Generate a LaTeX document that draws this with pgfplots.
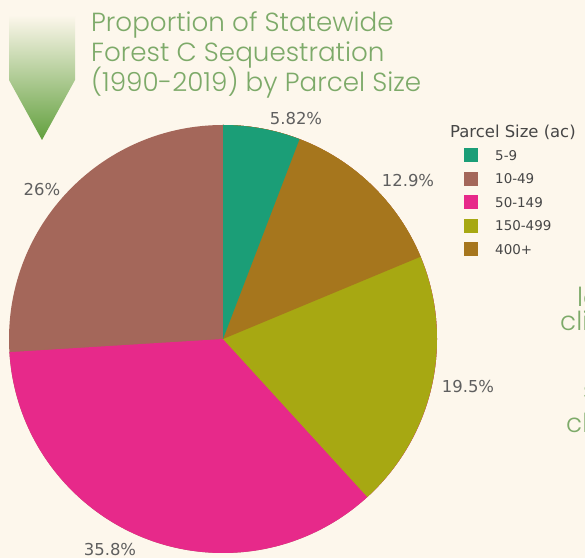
\documentclass[border=0pt]{standalone}
\usepackage{pgfplots}
\pgfplotsset{compat=1.18}
\usepackage{pgfplotstable}
\usepackage{fontspec}
\setmainfont{DejaVu Sans}
\newfontfamily\titlefont{Poppins Light}
\definecolor{bg}{RGB}{253,247,236}
\definecolor{ttl}{RGB}{125,170,105}
\definecolor{arrowg}{RGB}{98,160,62}
\definecolor{cA}{RGB}{27,158,119}
\definecolor{cE}{RGB}{164,103,90}
\definecolor{cD}{RGB}{231,41,138}
\definecolor{cC}{RGB}{167,168,18}
\definecolor{cB}{RGB}{166,118,29}
\definecolor{lbl}{RGB}{95,95,95}
\definecolor{leg}{RGB}{70,70,70}

% slices in clockwise order from 12 o'clock
\pgfplotstableread{
size share
5-9 5.82
400+ 12.9
150-499 19.5
50-149 35.8
10-49 26
}\piedata
\pgfplotstablegetelem{0}{share}\of\piedata \let\vA\pgfplotsretval
\pgfplotstablegetelem{1}{share}\of\piedata \let\vB\pgfplotsretval
\pgfplotstablegetelem{2}{share}\of\piedata \let\vC\pgfplotsretval
\pgfplotstablegetelem{3}{share}\of\piedata \let\vD\pgfplotsretval
\pgfplotstablegetelem{4}{share}\of\piedata \let\vE\pgfplotsretval
\pgfmathsetmacro\aA{90-3.6*\vA}
\pgfmathsetmacro\aB{\aA-3.6*\vB}
\pgfmathsetmacro\aC{\aB-3.6*\vC}
\pgfmathsetmacro\aD{\aC-3.6*\vD}

\begin{document}
\begin{tikzpicture}
\begin{axis}[
  width=585bp, height=558bp, scale only axis,
  xmin=0, xmax=585, ymin=0, ymax=558,
  hide axis, clip=false,
]
\fill[bg] (axis cs:0,0) rectangle (axis cs:585,558);
% arrow
\shade[top color=bg, bottom color=arrowg]
  (axis cs:9,543) -- (axis cs:75,543) -- (axis cs:75,478) -- (axis cs:42,418) -- (axis cs:9,478) -- cycle;
% pie (each wedge from 12 o'clock to its cumulative end, drawn largest first)
\fill[cE] (axis cs:223,433) arc[start angle=90,end angle=-270,radius=214bp] -- (axis cs:223,219) -- cycle;
\fill[cD] (axis cs:223,433) arc[start angle=90,end angle=\aD,radius=214bp] -- (axis cs:223,219) -- cycle;
\fill[cC] (axis cs:223,433) arc[start angle=90,end angle=\aC,radius=214bp] -- (axis cs:223,219) -- cycle;
\fill[cB] (axis cs:223,433) arc[start angle=90,end angle=\aB,radius=214bp] -- (axis cs:223,219) -- cycle;
\fill[cA] (axis cs:223,433) arc[start angle=90,end angle=\aA,radius=214bp] -- (axis cs:223,219) -- cycle;
% slice labels
\begin{scope}[every node/.style={text=lbl, font=\fontsize{16.5}{18}\selectfont, inner sep=0pt}]
\node at (axis cs:296,439) {5.82\%};
\node at (axis cs:408,377) {12.9\%};
\node at (axis cs:468,171) {19.5\%};
\node at (axis cs:110,8.5) {35.8\%};
\node at (axis cs:42,368.5) {26\%};
\end{scope}
% legend
\node[anchor=base west, inner sep=0pt, text=leg, font=\fontsize{16.5}{18}\selectfont] at (axis cs:450,420) {Parcel Size (ac)};
\begin{scope}[every node/.style={anchor=west, inner sep=0pt, text=leg, font=\fontsize{13.5}{15}\selectfont}]
\fill[cA] (axis cs:464,395.5) rectangle (axis cs:478,409.5);
\node at (axis cs:495,402.5) {5-9};
\fill[cE] (axis cs:464,372) rectangle (axis cs:478,386);
\node at (axis cs:495,379) {10-49};
\fill[cD] (axis cs:464,348.5) rectangle (axis cs:478,362.5);
\node at (axis cs:495,355.5) {50-149};
\fill[cC] (axis cs:464,325) rectangle (axis cs:478,339);
\node at (axis cs:495,332) {150-499};
\fill[cB] (axis cs:464,301.5) rectangle (axis cs:478,315.5);
\node at (axis cs:495,308.5) {400+};
\end{scope}
% title
\begin{scope}[every node/.style={anchor=base west, inner sep=0pt, text=ttl, font=\titlefont\fontsize{26.3}{30}\selectfont}]
\node at (axis cs:91,526) {Proportion of Statewide};
\node at (axis cs:91,496) {Forest C Sequestration};
\node at (axis cs:91,466) {(1990-2019) by Parcel Size};
\node at (axis cs:577,251) {lo};
\node at (axis cs:560,227) {cli};
\node at (axis cs:583,158) {s};
\node at (axis cs:566,125) {cl};
\end{scope}
\end{axis}
\pgfresetboundingbox
\path[use as bounding box] (current axis.south west) rectangle (current axis.north east);
\end{tikzpicture}
\end{document}
